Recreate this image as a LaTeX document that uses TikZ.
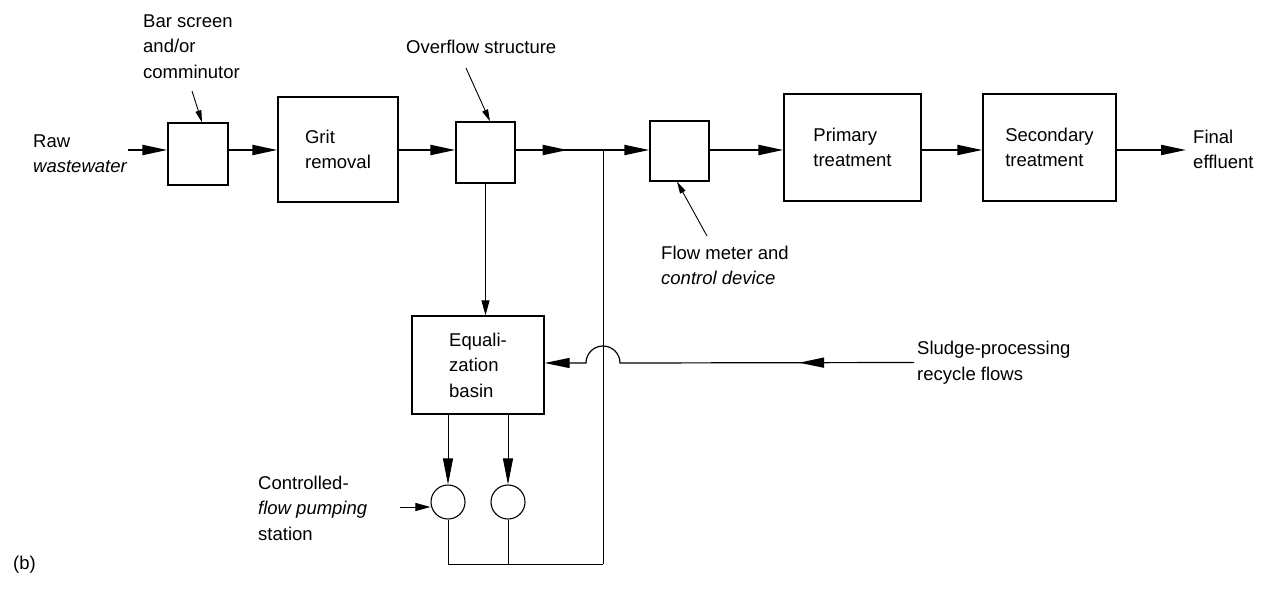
\documentclass[tikz,border=0pt]{standalone}
\usepackage{fontspec}
\setmainfont{Liberation Sans}
\usetikzlibrary{arrows.meta,decorations.markings}
\tikzset{
  bigtip/.tip={Triangle[length=25pt,width=10pt]},
  midtip/.tip={Triangle[length=26pt,width=10pt]},
  smalltip/.tip={Triangle[length=15pt,width=8pt]},
  anntip/.tip={Triangle[length=12pt,width=6pt]},
  box/.style={draw,line width=1.3pt,inner sep=0pt,align=left},
  lbl/.style={inner sep=0pt,align=left,anchor=west},
  flow/.style={line width=2pt,-{bigtip}},
  thinl/.style={line width=0.9pt},
  ann/.style={line width=0.9pt,-{anntip}},
  midarrow/.style={postaction={decorate},decoration={markings,mark=at position #1 with {\arrow{bigtip}}}}
}
\begin{document}
\begin{tikzpicture}[x=1pt,y=-1pt,font=\fontsize{18.5}{25.5}\selectfont]
\useasboundingbox (0,0) rectangle (1274,589);
% main row boxes
\node[box,minimum width=60pt,minimum height=62pt] (bar) at (198,154) {};
\node[box,minimum width=120pt,minimum height=105pt] (grit) at (338,149.5) {Grit\\removal};
\node[box,minimum width=59pt,minimum height=61pt] (over) at (485.5,152.5) {};
\node[box,minimum width=59pt,minimum height=60pt] (meter) at (679.5,151) {};
\node[box,minimum width=137pt,minimum height=107pt] (prim) at (852.5,147.5) {Primary\\treatment};
\node[box,minimum width=133pt,minimum height=107pt] (sec) at (1049.5,147.5) {Secondary\\treatment};
\node[box,minimum width=132pt,minimum height=98pt] (eq) at (478,365) {Equali-\\zation\\basin};
\node[circle,draw,line width=1.1pt,minimum size=34pt,inner sep=0pt] (c1) at (448,502) {};
\node[circle,draw,line width=1.1pt,minimum size=34pt,inner sep=0pt] (c2) at (508,502) {};
% labels
\node[lbl] (raw) at (33,153.5) {Raw\\\textit{wastewater}};
\node[lbl] (bsl) at (143,46.5) {Bar screen\\and/or\\comminutor};
\node[lbl] (ovl) at (406,47) {Overflow structure};
\node[lbl] (final) at (1193,149.5) {Final\\effluent};
\node[lbl] (fml) at (661,265.5) {Flow meter and\\\textit{control device}};
\node[lbl] (sll) at (917,362.5) {Sludge-processing\\recycle flows};
\node[lbl] (cfl) at (258,508) {Controlled-\\\textit{flow pumping}\\station};
\node[lbl] (blab) at (13,565) {(b)};
% coordinates
\coordinate (J) at (603,150);
\coordinate (B) at (603,564);
\coordinate (rawin) at (128,150);
\coordinate (bsa) at (192,91);
\coordinate (ova) at (466,68);
\coordinate (fma) at (707,236);
\coordinate (cin) at (400,507);
\coordinate (hopR) at (620,363);
\coordinate (hopT) at (603,346);
\coordinate (hopL) at (586,363);
% main flow
\draw[flow] (rawin) -- (rawin -| bar.west);
\draw[flow] (bar.east |- J) -- (grit.west |- J);
\draw[flow] (grit.east |- J) -- (over.west |- J);
\draw[line width=2pt,midarrow=52pt] (over.east |- J) -- (J);
\draw[flow] (J) -- (meter.west |- J);
\draw[flow] (meter.east |- J) -- (prim.west |- J);
\draw[flow] (prim.east |- J) -- (sec.west |- J);
\draw[flow,shorten >=7pt] (sec.east |- J) -- (final.west |- J);
% annotation arrows
\draw[ann] (bsa) -- ([xshift=4pt]bar.north);
\draw[ann] (ova) -- ([xshift=4.5pt]over.north);
\draw[ann] (fma) -- ([xshift=-2.5pt]meter.south);
% bypass and equalization
\draw[thinl] (J) -- (B);
\draw[thinl,-{smalltip}] (over.south) -- (over.south |- eq.north);
\draw[line width=1.2pt,-{bigtip},midarrow=115pt] ([xshift=-3pt]sll.west) -- (hopR)
  .. controls (620,353.6) and (612.4,346) .. (hopT)
  .. controls (593.6,346) and (586,353.6) .. (hopL) -- (hopL -| eq.east);
\draw[thinl,-{midtip}] (c1 |- eq.south) -- (c1.north);
\draw[thinl,-{midtip}] (c2 |- eq.south) -- (c2.north);
\draw[thinl,-{smalltip}] (cin) -- (c1.west |- cin);
\draw[thinl] (c1.south) -- (c1.south |- B) -- (B);
\draw[thinl] (c2.south) -- (c2.south |- B);
\end{tikzpicture}
\end{document}
